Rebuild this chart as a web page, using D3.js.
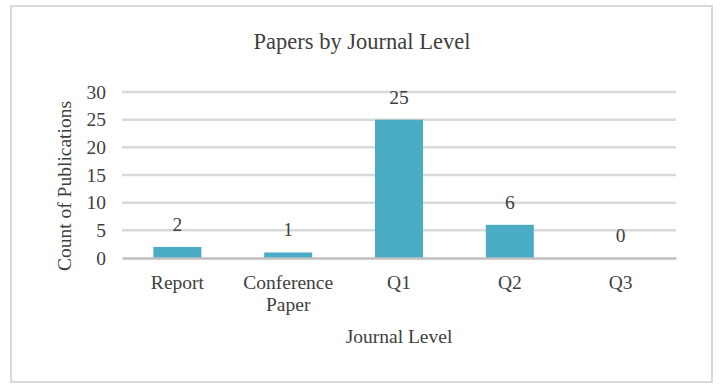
<!DOCTYPE html>
<html>
<head>
<meta charset="utf-8">
<script src="https://cdn.jsdelivr.net/npm/d3@7"></script>
<style>
  body { margin: 0; background: #fff; }
  text { font-family: "Liberation Serif", serif; fill: #404040; }
</style>
</head>
<body>
<div id="chart"></div>
<script>
// data
const categories = ["Report", "Conference Paper", "Q1", "Q2", "Q3"];
const counts = [2, 1, 25, 6, 0];
const yTicks = [0, 5, 10, 15, 20, 25, 30];

const width = 726;
const height = 388;
const plot = { left: 122, right: 676, top: 92, bottom: 258 };
const fontSize = "19.5px";

const svg = d3.select("#chart")
  .append("svg")
  .attr("width", width)
  .attr("height", height);

// outer chart frame
svg.append("rect")
  .attr("x", 11)
  .attr("y", 6)
  .attr("width", 701)
  .attr("height", 376)
  .attr("fill", "#fff")
  .attr("stroke", "#d9d9d9")
  .attr("stroke-width", 2);

svg.append("text")
  .attr("x", 362)
  .attr("y", 49)
  .attr("text-anchor", "middle")
  .style("font-size", "22.5px")
  .text("Papers by Journal Level");

const x = d3.scaleBand()
  .domain(categories)
  .range([plot.left, plot.right])
  .paddingInner(0.567)
  .paddingOuter(0.2835);

const y = d3.scaleLinear()
  .domain([0, 30])
  .range([plot.bottom, plot.top]);

// gridlines
svg.append("g")
  .selectAll("line")
  .data(yTicks.filter(d => d > 0))
  .enter()
  .append("line")
  .attr("x1", plot.left)
  .attr("x2", plot.right)
  .attr("y1", d => y(d))
  .attr("y2", d => y(d))
  .attr("stroke", "#d9d9d9")
  .attr("stroke-width", 2.5);

// y axis labels
const yAxis = svg.append("g")
  .attr("transform", "translate(" + plot.left + ",0)")
  .call(d3.axisLeft(y).tickValues(yTicks).tickSize(0).tickPadding(16));
yAxis.select(".domain").remove();
yAxis.selectAll("text")
  .style("font-size", fontSize)
  .style("font-family", "Liberation Serif, serif")
  .attr("fill", "#404040");

// bars
svg.selectAll(".bar")
  .data(counts)
  .enter()
  .append("rect")
  .attr("class", "bar")
  .attr("x", (d, i) => x(categories[i]))
  .attr("y", d => y(d))
  .attr("width", x.bandwidth())
  .attr("height", d => y(0) - y(d))
  .attr("fill", "#4bacc6");

// value labels
svg.selectAll(".value")
  .data(counts)
  .enter()
  .append("text")
  .attr("class", "value")
  .attr("x", (d, i) => x(categories[i]) + x.bandwidth() / 2)
  .attr("y", d => y(d) - 16)
  .attr("text-anchor", "middle")
  .style("font-size", fontSize)
  .text(d => d);

// x axis
const xAxis = svg.append("g")
  .attr("transform", "translate(0," + plot.bottom + ")")
  .call(d3.axisBottom(x).tickSize(0).tickPadding(0));
xAxis.select(".domain")
  .attr("stroke", "#bfbfbf")
  .attr("stroke-width", 2.5);
xAxis.selectAll("text").remove();

// category labels, wrapped like the original
xAxis.selectAll(".tick")
  .append("text")
  .attr("text-anchor", "middle")
  .style("font-size", fontSize)
  .style("font-family", "Liberation Serif, serif")
  .attr("fill", "#404040")
  .each(function(d) {
    const lines = d === "Conference Paper" ? ["Conference", "Paper"] : [d];
    lines.forEach((l, k) => {
      d3.select(this).append("tspan")
        .attr("x", 0)
        .attr("y", 31 + k * 22)
        .text(l);
    });
  });

svg.append("text")
  .attr("x", 399)
  .attr("y", 343)
  .attr("text-anchor", "middle")
  .style("font-size", fontSize)
  .text("Journal Level");

svg.append("text")
  .attr("transform", "translate(71,186) rotate(-90)")
  .attr("text-anchor", "middle")
  .style("font-size", fontSize)
  .text("Count of Publications");
</script>
</body>
</html>
